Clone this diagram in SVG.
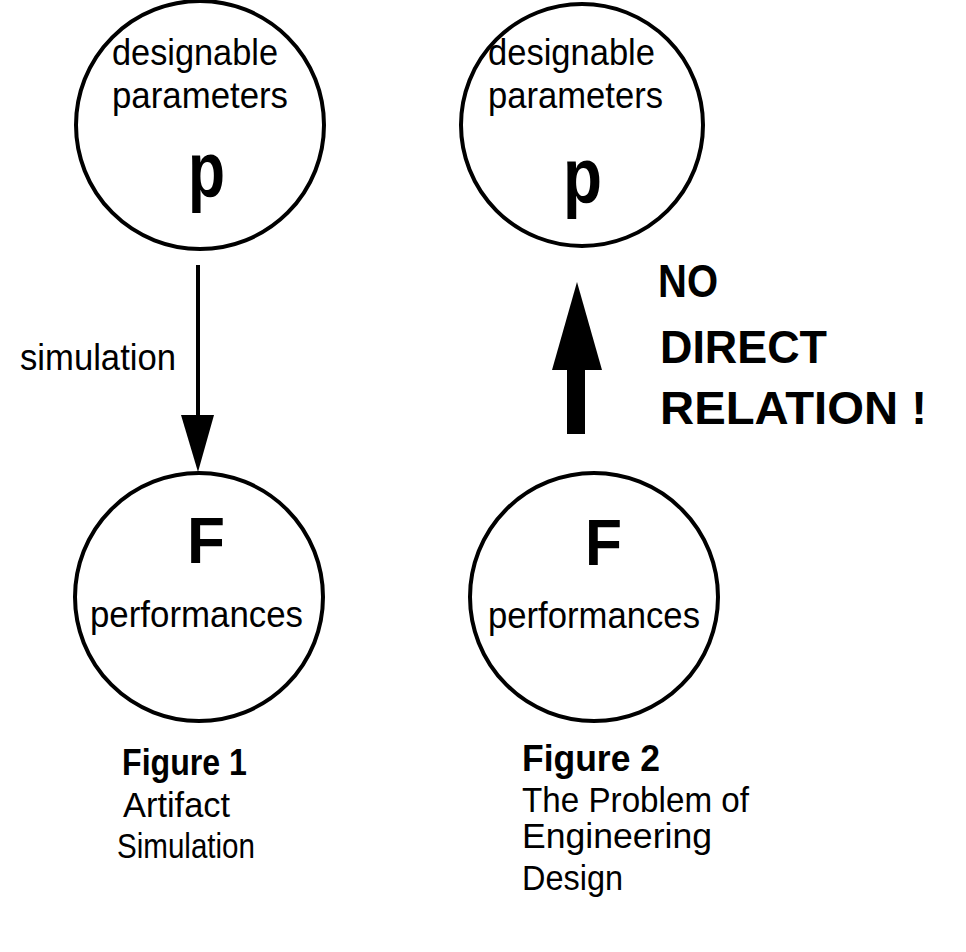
<svg xmlns="http://www.w3.org/2000/svg" width="966" height="952" viewBox="0 0 966 952">
<style>
.node{fill:none;stroke:#000;stroke-width:4}
.t{font-family:"Liberation Sans",Arial,sans-serif;font-size:36px;fill:#000}
.b{font-family:"Liberation Sans",Arial,sans-serif;font-weight:bold;fill:#000}
.big{font-size:64px}
.cap{font-size:37px}
.rel{font-size:46px}
.reg{font-family:"Liberation Sans",Arial,sans-serif;font-size:35px;fill:#000}
.shaft{stroke:#000;stroke-width:4;fill:none}
.head{fill:#000;stroke:none}
</style>
<rect width="966" height="952" fill="#fff"/>
<g id="p1">
<circle class="node" cx="200" cy="125" r="124"/>
<text class="t" x="112" y="65" textLength="166" lengthAdjust="spacingAndGlyphs">designable</text>
<text class="t" x="112" y="108" textLength="176" lengthAdjust="spacingAndGlyphs">parameters</text>
<text class="b" x="188" y="197" font-size="78" textLength="37" lengthAdjust="spacingAndGlyphs">p</text>
</g>
<g id="F1">
<circle class="node" cx="199" cy="597" r="124"/>
<text class="b big" x="187" y="563" textLength="38" lengthAdjust="spacingAndGlyphs">F</text>
<text class="t" x="90" y="627" textLength="213" lengthAdjust="spacingAndGlyphs">performances</text>
</g>
<g id="p2">
<circle class="node" cx="582" cy="125" r="121"/>
<text class="t" x="488" y="65" textLength="167" lengthAdjust="spacingAndGlyphs">designable</text>
<text class="t" x="488" y="108" textLength="175" lengthAdjust="spacingAndGlyphs">parameters</text>
<text class="b" x="563" y="203" font-size="78" textLength="39" lengthAdjust="spacingAndGlyphs">p</text>
</g>
<g id="F2">
<circle class="node" cx="594" cy="597" r="124"/>
<text class="b big" x="585" y="565" textLength="37" lengthAdjust="spacingAndGlyphs">F</text>
<text class="t" x="488" y="628" textLength="212" lengthAdjust="spacingAndGlyphs">performances</text>
</g>
<g id="connectors">
<line class="shaft" x1="198" y1="265" x2="198" y2="420"/>
<polygon class="head" points="181,415 214,415 198,472"/>
<rect class="head" x="567" y="368" width="18" height="66"/>
<polygon class="head" points="552,370 602,370 577,282"/>
</g>
<g id="labels">
<text class="t" x="20" y="370" textLength="156" lengthAdjust="spacingAndGlyphs">simulation</text>
<text class="b rel" x="658" y="297" textLength="60" lengthAdjust="spacingAndGlyphs">NO</text>
<text class="b rel" x="660" y="363" textLength="167" lengthAdjust="spacingAndGlyphs">DIRECT</text>
<text class="b rel" x="660" y="424" textLength="267" lengthAdjust="spacingAndGlyphs">RELATION !</text>
</g>
<g id="caption1">
<text class="b cap" x="122" y="775" textLength="125" lengthAdjust="spacingAndGlyphs">Figure 1</text>
<text class="reg" x="123" y="817" textLength="107" lengthAdjust="spacingAndGlyphs">Artifact</text>
<text class="reg" x="117" y="858" textLength="138" lengthAdjust="spacingAndGlyphs">Simulation</text>
</g>
<g id="caption2">
<text class="b cap" x="522" y="771" textLength="138" lengthAdjust="spacingAndGlyphs">Figure 2</text>
<text class="reg" x="522" y="812" textLength="227" lengthAdjust="spacingAndGlyphs">The Problem of</text>
<text class="reg" x="522" y="848" textLength="190" lengthAdjust="spacingAndGlyphs">Engineering</text>
<text class="reg" x="522" y="890" textLength="101" lengthAdjust="spacingAndGlyphs">Design</text>
</g>
</svg>
